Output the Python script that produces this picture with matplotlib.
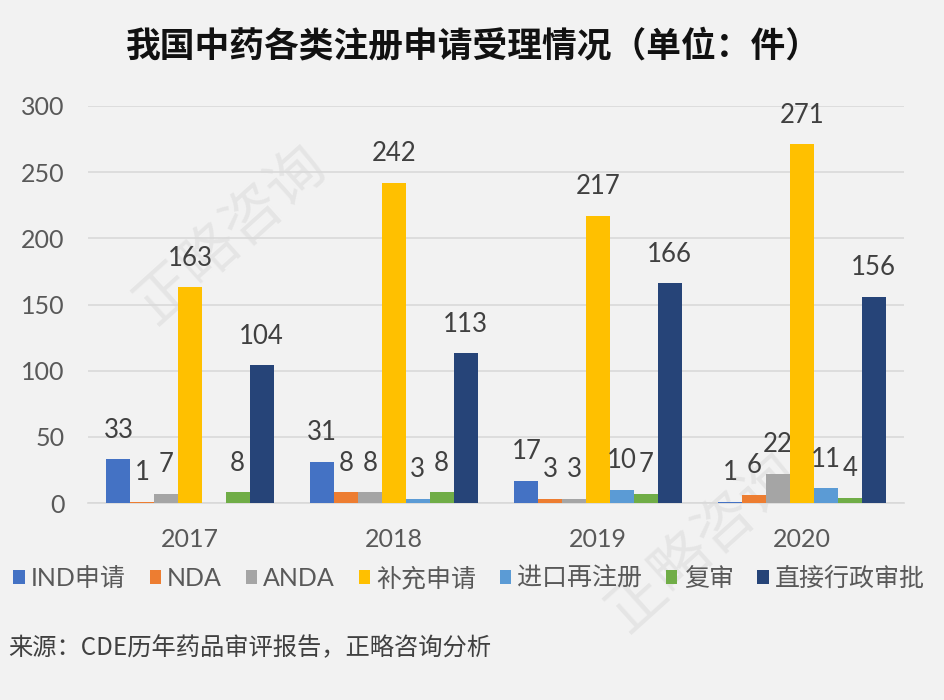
#!/usr/bin/env python3
"""我国中药各类注册申请受理情况 grouped bar chart."""
import matplotlib

matplotlib.use("Agg")
import matplotlib.pyplot as plt
import numpy as np
from matplotlib.patches import Patch

plt.rcParams["font.family"] = ["Lato", "Noto Sans CJK SC", "DejaVu Sans"]

YEARS = ["2017", "2018", "2019", "2020"]
SERIES = ["IND申请", "NDA", "ANDA", "补充申请", "进口再注册", "复审", "直接行政审批"]
IND = [33, 31, 17, 1]
NDA = [1, 8, 3, 6]
ANDA = [7, 8, 3, 22]
SUPPLEMENT = [163, 242, 217, 271]
IMPORT_REREG = [None, 3, 10, 11]
REVIEW = [8, 8, 7, 4]
DIRECT_ADMIN = [104, 113, 166, 156]
VALUES = [IND, NDA, ANDA, SUPPLEMENT, IMPORT_REREG, REVIEW, DIRECT_ADMIN]
COLORS = ["#4472C4", "#ED7D31", "#A5A5A5", "#FFC000", "#5B9BD5", "#70AD47", "#264478"]

BG = "#F2F2F2"
TEXT = "#404040"


def main() -> None:
    fig = plt.figure(figsize=(9.44, 7.0), dpi=100, facecolor=BG)
    ax = fig.add_axes([0.0932, 0.2814, 0.8644, 0.5672], facecolor="none")

    # faint watermarks, behind everything
    for wx, wy in ((0.245, 0.665), (0.745, 0.225)):
        fig.text(
            wx,
            wy,
            "正略咨询",
            ha="center",
            va="center",
            rotation=42,
            fontsize=42,
            family=["Noto Sans CJK SC"],
            color="#C8C8C8",
            alpha=0.3,
            zorder=-5,
        )

    x = np.arange(len(YEARS))
    width = 0.117
    n = len(SERIES)
    for i, (vals, color) in enumerate(zip(VALUES, COLORS)):
        pos = x + (i - (n - 1) / 2) * width
        heights = [np.nan if v is None else v for v in vals]
        ax.bar(pos, heights, width=width, color=color, zorder=3)
        for px, v in zip(pos, vals):
            if v is None:
                continue
            ax.annotate(
                str(v),
                (px, v),
                xytext=(0, 21),
                textcoords="offset points",
                ha="center",
                va="center",
                fontsize=18.5,
                color=TEXT,
            )

    ax.set_ylim(0, 300)
    ax.set_yticks(range(0, 301, 50))
    ax.set_xlim(-0.5, len(YEARS) - 0.5)
    ax.set_xticks(x)
    ax.set_xticklabels(YEARS)
    ax.yaxis.grid(True, color="#D9D9D9", linewidth=1.2, zorder=0)
    ax.tick_params(axis="both", length=0, labelsize=18, labelcolor="#595959")
    ax.tick_params(axis="x", pad=18)
    ax.tick_params(axis="y", pad=17)
    for side in ("left", "right", "top"):
        ax.spines[side].set_visible(False)
    ax.spines["bottom"].set_color("#D9D9D9")
    ax.spines["bottom"].set_linewidth(1.2)

    handles = [Patch(facecolor=c, edgecolor="none") for c in COLORS]
    fig.legend(
        handles,
        SERIES,
        loc="center",
        bbox_to_anchor=(0.497, 0.174),
        ncol=n,
        frameon=False,
        fontsize=18,
        handlelength=0.45,
        handleheight=0.5,
        handletextpad=0.25,
        columnspacing=0.95,
        borderaxespad=0,
        labelcolor="#595959",
    )

    fig.text(
        0.502,
        0.935,
        "我国中药各类注册申请受理情况（单位：件）",
        ha="center",
        va="center",
        fontsize=25,
        fontweight="bold",
        family=["Noto Sans CJK SC"],
        color="#111111",
    )
    fig.text(
        0.009,
        0.074,
        "来源：CDE历年药品审评报告，正略咨询分析",
        ha="left",
        va="center",
        fontsize=17.5,
        family=["Noto Sans CJK SC"],
        color="#404040",
    )

    fig.savefig("out.png", dpi=100, facecolor=BG)
    plt.close(fig)


if __name__ == "__main__":
    main()
